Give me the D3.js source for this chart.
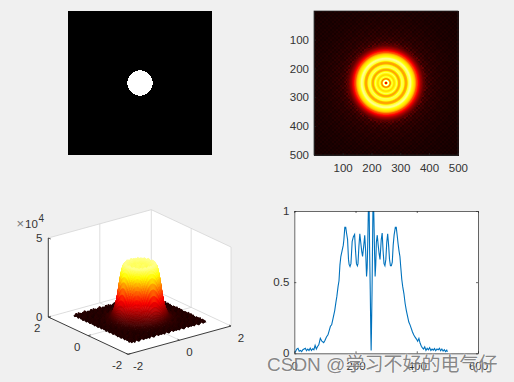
<!DOCTYPE html>
<html>
<head>
<meta charset="utf-8">
<script src="https://cdn.jsdelivr.net/npm/d3@7"></script>
<style>
  html, body { margin: 0; padding: 0; background: #f0f0f0; overflow: hidden; }
  svg { display: block; }
  text { font-family: "Liberation Sans", Arial, sans-serif; font-size: 11.5px; fill: #333; }
  .wm { font-family: "Liberation Sans", "Noto Sans CJK SC", sans-serif; font-size: 19px; fill: rgba(105,105,105,0.8); stroke: rgba(255,255,255,0.55); stroke-width: 1.2px; paint-order: stroke; }
</style>
</head>
<body>
<svg id="chart" width="514" height="382"></svg>
<script>
// spectrum cross section
const profileX = [1,4,8,12,16,20,24,28,32,36,40,44,48,52,56,60,64,68,72,76,80,85,90,96,100,105,110,114,118,122,125,128,132,136,139,143,146,149,152,156,160,162,165,168,171,174,177,179,182,185,189,193,197,200,203,206,208,211,214,217,220,223,227,230,233,236,238,240,242,243,244,246,248,250,251,
  252,254,256,257,258,260,262,264,266,268,271,274,277,280,284,287,290,293,296,299,302,305,308,311,314,317,320,323,326,330,333,336,339,342,345,348,351,354,358,362,366,370,374,378,382,386,390,394,399,403,407,411,415,418,422,426,430,434,438,442,446,450,454,458,462,466,470,474,478,482,486,490,494,498,500];
const profileY = [0.005,0.012,0.03,0.035,0.015,0.02,0.012,0.025,0.03,0.035,0.018,0.03,0.02,0.036,0.02,0.032,0.025,0.056,0.03,0.048,0.06,0.105,0.085,0.075,0.09,0.115,0.13,0.16,0.19,0.2,0.23,0.26,0.3,0.36,0.4,0.47,0.51,0.62,0.68,0.72,0.76,0.8,0.885,0.885,0.84,0.8,0.66,0.625,0.61,0.63,0.785,0.82,0.835,0.72,0.63,0.615,0.63,0.75,0.84,0.78,0.72,0.68,0.76,0.83,0.72,0.54,0.6,0.78,1.02,1.1,1.12,0.72,0.45,0.13,0.02,
  0.15,0.45,0.85,1.05,1.12,0.95,0.72,0.54,0.62,0.78,0.83,0.76,0.7,0.66,0.8,0.845,0.72,0.63,0.615,0.66,0.78,0.84,0.76,0.66,0.615,0.615,0.64,0.76,0.83,0.885,0.885,0.83,0.77,0.72,0.68,0.6,0.52,0.47,0.42,0.35,0.3,0.26,0.22,0.2,0.175,0.15,0.13,0.115,0.1,0.085,0.105,0.07,0.05,0.04,0.03,0.045,0.02,0.035,0.025,0.04,0.02,0.03,0.022,0.033,0.018,0.03,0.025,0.035,0.018,0.03,0.015,0.025,0.012,0.022,0.01];

// glow outside the bright disc in the heat map: radius, level
const glowR = [110,120,130,145,165,200,250,360];
const glowV = [0.42,0.24,0.13,0.07,0.048,0.036,0.026,0.016];

// speckle seen on the dark part of the heat map
const speckle = [
  [1.3,0.7,1.1,0.6,1.4,0.8],
  [0.6,1.3,0.8,1.3,0.7,1.2],
  [1.2,0.8,1.4,0.7,1.1,0.6],
  [0.7,1.3,0.6,1.2,0.8,1.4],
  [1.4,0.6,1.1,0.8,1.3,0.7],
  [0.8,1.1,0.7,1.4,0.6,1.3]
];

// surface height against radius (units of 1e4)
const surfR = [0,0.1,0.2,0.3,0.4,0.47,0.52,0.56,0.6,0.64,0.68,0.72,0.76,0.8,0.86,0.95,1.05,1.2,1.4,2.2];
const surfZ = [3.35,3.4,3.35,3.4,3.5,3.58,3.48,3.2,2.8,2.3,1.75,1.3,0.95,0.7,0.45,0.27,0.17,0.12,0.1,0.1];
// bumps on the surface (units of 1e4)
const surfBumps = [
  [0.02,0.12,-0.03,0.2,0.05,-0.04,0.1,0.22,0.0,0.08],
  [0.15,-0.02,0.06,0.01,0.24,0.03,-0.05,0.06,0.16,-0.03],
  [-0.04,0.07,0.2,-0.03,0.04,0.13,0.02,-0.02,0.09,0.21],
  [0.1,0.25,0.0,0.08,-0.05,0.18,0.06,0.14,-0.04,0.03],
  [0.03,-0.05,0.11,0.17,0.02,-0.02,0.23,0.01,0.07,0.12],
  [0.2,0.05,-0.03,0.06,0.14,0.08,-0.04,0.11,0.24,-0.01],
  [-0.02,0.16,0.09,-0.04,0.21,0.01,0.12,0.04,-0.03,0.15],
  [0.07,0.0,0.22,0.12,-0.03,0.1,0.19,-0.05,0.05,0.02],
  [0.13,-0.04,0.03,0.18,0.06,0.24,-0.02,0.08,0.15,0.0],
  [-0.03,0.2,0.08,-0.01,0.11,0.03,0.05,0.17,-0.04,0.1]
];
// how much of a bump shows at a radius: flat top, smooth wall, rough floor
const bumpR = [0,0.45,0.52,0.85,1.05,2.2];
const bumpK = [0.5,0.5,0,0,0.6,0.6];

const imgTicks = [100, 200, 300, 400, 500];
const lineXTicks = [0, 200, 400, 600];
const lineYTicks = [0, 0.5, 1];
const surfTicks = [-2, 0, 2];
const apertureRadius = 44;
const watermark = "CSDN @学习不好的电气仔";

const svg = d3.select("#chart");
const ink = "#262626";

const hot = d3.scaleLinear()
  .domain([0, 0.375, 0.75, 1])
  .range(["#0b0000", "#ff0000", "#ffff00", "#ffffff"])
  .clamp(true);

const halfN = profileX.findIndex((d) => d === 251) + 1;
const radial = d3.scaleLinear()
  .domain(profileX.slice(0, halfN).map((d) => 251 - d).reverse())
  .range(profileY.slice(0, halfN).reverse())
  .clamp(true);
const glow = d3.scaleLinear(glowR, glowV).clamp(true);

// top left: aperture
function drawAperture() {
  const x = d3.scaleLinear([0, 500], [68, 212]);
  const y = d3.scaleLinear([0, 500], [11, 155]);
  const g = svg.append("g");
  g.append("rect")
    .attr("x", x(0)).attr("y", y(0))
    .attr("width", x(500) - x(0)).attr("height", y(500) - y(0))
    .attr("fill", "#000");
  g.append("circle")
    .attr("cx", x(250)).attr("cy", y(250))
    .attr("r", x(apertureRadius) - x(0))
    .attr("fill", "#fff")
    .attr("shape-rendering", "crispEdges");
}

// top right: spectrum image
function drawSpectrum() {
  const x = d3.scaleLinear([0.5, 500.5], [314, 458]);
  const y = d3.scaleLinear([0.5, 500.5], [11, 155]);
  const g = svg.append("g");
  const n = 144;
  const cell = 500 / n;
  const cells = d3.cross(d3.range(n), d3.range(n));
  g.append("g")
    .attr("shape-rendering", "crispEdges")
    .selectAll("rect")
    .data(cells)
    .join("rect")
    .attr("x", (d) => x(d[0] * cell + 0.5))
    .attr("y", (d) => y(d[1] * cell + 0.5))
    .attr("width", x(cell) - x(0) + 0.5)
    .attr("height", y(cell) - y(0) + 0.5)
    .attr("fill", (d) => {
      const cx = (d[0] + 0.5) * cell + 0.5;
      const cy = (d[1] + 0.5) * cell + 0.5;
      const r = Math.hypot(cx - 250.5, cy - 250.5);
      if (r < 110) return hot(radial(r));
      return hot(r < 135 ? glow(r) : glow(r) * speckle[(d[1] >> 1) % 6][(d[0] >> 1) % 6]);
    });

  const axisX = d3.axisBottom(x).tickValues(imgTicks).tickSize(-2).tickPadding(9).tickSizeOuter(0);
  const axisY = d3.axisLeft(y).tickValues(imgTicks).tickSize(-2).tickPadding(5).tickSizeOuter(0);
  g.append("g").attr("transform", "translate(0,155)").call(axisX).call(styleAxis);
  g.append("g").attr("transform", "translate(314,0)").call(axisY).call(styleAxis);
  g.append("rect")
    .attr("x", 314).attr("y", 11).attr("width", 144).attr("height", 144)
    .attr("fill", "none").attr("stroke", ink).attr("stroke-width", 0.7);
}

function styleAxis(g) {
  g.select(".domain").attr("stroke", ink).attr("stroke-width", 0.7);
  g.selectAll(".tick line").attr("stroke", ink).attr("stroke-width", 0.7);
  g.selectAll(".tick text").attr("font-size", null).style("font-family", null);
}

// bottom left: surface
function drawSurface() {
  const front = [128, 354.3];
  const right = [231, 326];
  const left = [48.3, 317];
  const sx1 = d3.scaleLinear([-2, 2], [0, right[0] - front[0]]);
  const sx2 = d3.scaleLinear([-2, 2], [0, right[1] - front[1]]);
  const sy1 = d3.scaleLinear([-2, 2], [0, left[0] - front[0]]);
  const sy2 = d3.scaleLinear([-2, 2], [0, left[1] - front[1]]);
  const sz = d3.scaleLinear([0, 5], [0, 79]);
  const project = (a, b, c) => [front[0] + sx1(a) + sy1(b), front[1] + sx2(a) + sy2(b) - sz(c)];
  const poly = (pts) => pts.map((p) => p.join(",")).join(" ");
  const g = svg.append("g");

  // white back walls and floor
  g.append("polygon").attr("fill", "#fff").attr("points", poly([project(-2, 2, 0), project(-2, 2, 5), project(2, 2, 5), project(2, 2, 0)]));
  g.append("polygon").attr("fill", "#fff").attr("points", poly([project(2, 2, 0), project(2, 2, 5), project(2, -2, 5), project(2, -2, 0)]));
  g.append("polygon").attr("fill", "#fff").attr("points", poly([project(-2, -2, 0), project(2, -2, 0), project(2, 2, 0), project(-2, 2, 0)]));

  const grid = "#d6d6d6";
  const wire = [
    [[-2, 2, 5], [2, 2, 5]], [[2, 2, 5], [2, -2, 5]], [[2, 2, 0], [2, 2, 5]], [[2, -2, 0], [2, -2, 5]],
    [[0, 2, 0], [0, 2, 5]], [[2, 0, 0], [2, 0, 5]],
    [[-2, 2, 0], [2, 2, 0]], [[2, 2, 0], [2, -2, 0]],
    [[0, -2, 0], [0, 2, 0]], [[-2, 0, 0], [2, 0, 0]]
  ];
  g.selectAll(".grid-line")
    .data(wire)
    .join("line")
    .attr("class", "grid-line")
    .attr("x1", (d) => project(...d[0])[0]).attr("y1", (d) => project(...d[0])[1])
    .attr("x2", (d) => project(...d[1])[0]).attr("y2", (d) => project(...d[1])[1])
    .attr("stroke", grid).attr("stroke-width", 0.8);

  // surface quads, far corner first
  const n = 100;
  const u = d3.scaleLinear([0, n], [-1.4, 1.5]);
  const radius = d3.scaleLinear(surfR, surfZ).clamp(true);
  const bumpAt = d3.scaleLinear(bumpR, bumpK).clamp(true);
  const height = (i, j) => {
    const r = Math.hypot(u(i) - 0.05, u(j) - 0.05);
    return radius(r) + bumpAt(r) * surfBumps[(j >> 1) % 10][(i >> 1) % 10];
  };
  const zMax = 4.05;
  const quads = d3.cross(d3.range(n), d3.range(n)).sort((a, b) => (b[0] + b[1]) - (a[0] + a[1]));
  g.append("g")
    .selectAll("polygon")
    .data(quads)
    .join("polygon")
    .attr("points", ([i, j]) => poly([
      project(u(i), u(j), height(i, j)),
      project(u(i + 1), u(j), height(i + 1, j)),
      project(u(i + 1), u(j + 1), height(i + 1, j + 1)),
      project(u(i), u(j + 1), height(i, j + 1))
    ]))
    .each(function ([i, j]) {
      const m = (height(i, j) + height(i + 1, j) + height(i + 1, j + 1) + height(i, j + 1)) / 4;
      const c = hot(m / zMax);
      d3.select(this).attr("fill", c).attr("stroke", c).attr("stroke-width", 0.5);
    });

  // axes in front
  const axes = [[[-2, 2, 0], [-2, 2, 5]], [[-2, 2, 0], [-2, -2, 0]], [[-2, -2, 0], [2, -2, 0]]];
  g.selectAll(".axis-line")
    .data(axes)
    .join("line")
    .attr("class", "axis-line")
    .attr("x1", (d) => project(...d[0])[0]).attr("y1", (d) => project(...d[0])[1])
    .attr("x2", (d) => project(...d[1])[0]).attr("y2", (d) => project(...d[1])[1])
    .attr("stroke", ink).attr("stroke-width", 0.9);

  // ticks
  surfTicks.forEach((t) => {
    const a = project(t, -2, 0), a2 = project(t, -1.9, 0);
    g.append("line").attr("x1", a[0]).attr("y1", a[1]).attr("x2", a2[0]).attr("y2", a2[1]).attr("stroke", ink).attr("stroke-width", 0.7);
    const b = project(-2, t, 0), b2 = project(-1.9, t, 0);
    g.append("line").attr("x1", b[0]).attr("y1", b[1]).attr("x2", b2[0]).attr("y2", b2[1]).attr("stroke", ink).attr("stroke-width", 0.7);
    g.append("text").attr("x", a[0] + 10).attr("y", a[1] + 16).attr("text-anchor", "middle").text(t);
    g.append("text").attr("x", b[0] - 11).attr("y", b[1] + 15).attr("text-anchor", "middle").text(t);
  });
  [0, 5].forEach((t) => {
    const p = project(-2, 2, t);
    g.append("line").attr("x1", p[0]).attr("y1", p[1]).attr("x2", p[0] + 2.5).attr("y2", p[1] + 1).attr("stroke", ink).attr("stroke-width", 0.7);
    g.append("text").attr("x", p[0] - 6).attr("y", p[1] + 4).attr("text-anchor", "end").text(t);
  });

  g.append("text").attr("x", 16.5).attr("y", 228).style("font-size", "13px").style("fill", "#777").text("×");
  g.append("text").attr("x", 25).attr("y", 228).text("10");
  g.append("text").attr("x", 38.5).attr("y", 222).style("font-size", "10px").text("4");
}

// bottom right: cross section
function drawProfile() {
  const x = d3.scaleLinear([0, 600], [294.3, 478]);
  const y = d3.scaleLinear([0, 1], [353.3, 211]);
  const g = svg.append("g");
  g.append("rect")
    .attr("x", x(0)).attr("y", y(1))
    .attr("width", x(600) - x(0)).attr("height", y(0) - y(1))
    .attr("fill", "#fff");
  g.append("clipPath").attr("id", "clip-profile").append("rect")
    .attr("x", x(0)).attr("y", y(1))
    .attr("width", x(600) - x(0)).attr("height", y(0) - y(1));

  const line = d3.line().x((d) => x(d)).y((d, i) => y(profileY[i]));
  g.append("path")
    .attr("clip-path", "url(#clip-profile)")
    .attr("d", line(profileX))
    .attr("fill", "none")
    .attr("stroke", "#0072bd")
    .attr("stroke-width", 1.1);

  const axisX = d3.axisBottom(x).tickValues(lineXTicks).tickSize(-2).tickPadding(9).tickSizeOuter(0);
  const axisY = d3.axisLeft(y).tickValues(lineYTicks).tickSize(-2).tickPadding(5).tickSizeOuter(0).tickFormat(d3.format("~g"));
  const axisT = d3.axisTop(x).tickValues(lineXTicks).tickSize(-2).tickFormat("").tickSizeOuter(0);
  const axisR = d3.axisRight(y).tickValues(lineYTicks).tickSize(-2).tickFormat("").tickSizeOuter(0);
  g.append("g").attr("transform", `translate(0,${y(0)})`).call(axisX).call(styleAxis);
  g.append("g").attr("transform", `translate(${x(0)},0)`).call(axisY).call(styleAxis);
  g.append("g").attr("transform", `translate(0,${y(1)})`).call(axisT).call(styleAxis);
  g.append("g").attr("transform", `translate(${x(600)},0)`).call(axisR).call(styleAxis);
}

drawAperture();
drawSpectrum();
drawSurface();
drawProfile();

svg.append("text")
  .attr("class", "wm")
  .attr("x", 267)
  .attr("y", 371)
  .text(watermark);
</script>
</body>
</html>
